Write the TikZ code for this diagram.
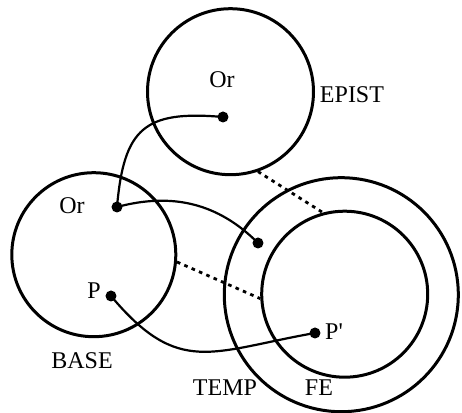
\documentclass[tikz,border=0pt]{standalone}
\usepackage{fontspec}
\setmainfont{Liberation Serif}
\begin{document}
\begin{tikzpicture}[x=0.5pt,y=0.5pt]
\tikzset{
  region/.style={circle,draw=black,line width=1.5pt,inner sep=0pt},
  spot/.style={circle,fill=black,inner sep=0pt,minimum size=5.5pt},
  tag/.style={inner sep=1pt,font=\fontsize{12}{14}\selectfont},
  link/.style={draw=black,line width=1.1pt,line cap=round},
  dotlink/.style={draw=black,line width=1.4pt,dash pattern=on 1.8pt off 2.2pt}
}
\useasboundingbox (0,0) rectangle (462,413);
\node[region,minimum size=83pt] (n_epist) at (230.5,321.3) {};
\node[region,minimum size=82pt] (n_base) at (93.8,158.3) {};
\node[region,minimum size=117pt] (n_temp) at (341.3,118.3) {};
\node[region,minimum size=83pt] (n_fe) at (344.7,118.8) {};
\node[spot] (n_or1) at (223,296) {};
\node[spot] (n_or0) at (117,206) {};
\node[spot] (n_mid) at (258,170) {};
\node[spot] (n_p) at (111,117) {};
\node[spot] (n_pp) at (315,80) {};
\node[tag] (t_or1) at (222,333) {Or};
\node[tag] (t_epist) at (352,318) {EPIST};
\node[tag] (t_or0) at (72,207) {Or};
\node[tag] (t_p) at (94,122) {P};
\node[tag] (t_pp) at (334,81) {P\textquotesingle};
\node[tag] (t_base) at (82,52) {BASE};
\node[tag] (t_temp) at (225,25) {TEMP};
\node[tag] (t_fe) at (319,25) {FE};
\draw[link] (n_or1.center) to[out=175,in=85,looseness=1.45] (n_or0.center);
\draw[link] (n_or0.center) to[out=15,in=135] (n_mid.center);
\draw[link] (n_p.center) to[out=-50,in=190,looseness=1.3] (n_pp.center);
\draw[dotlink] (n_epist.-71) -- (n_fe.105);
\draw[dotlink] (n_base.-5) -- (n_fe.183);
\end{tikzpicture}
\end{document}
